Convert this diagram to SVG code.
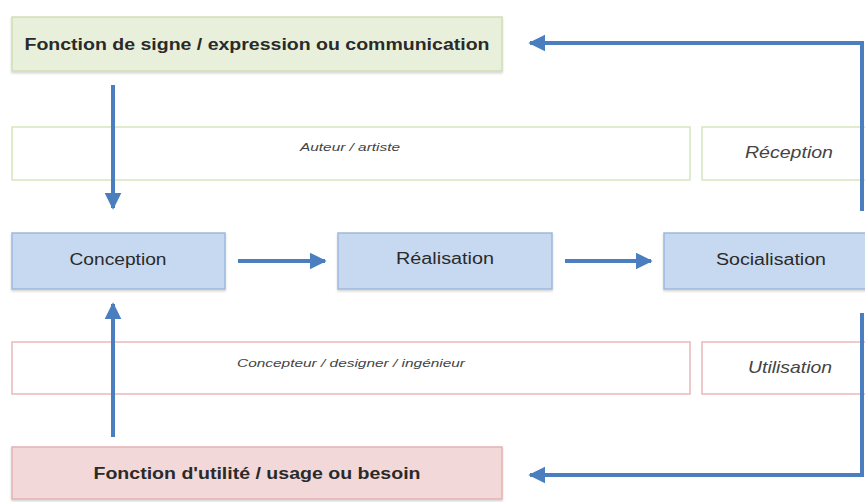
<svg xmlns="http://www.w3.org/2000/svg" width="865" height="502" viewBox="0 0 865 502">
<style>
.t{font-family:"Liberation Sans",Arial,sans-serif;fill:#2a2a2a;text-anchor:middle;dominant-baseline:central}
.b{font-weight:bold;font-size:16px}
.n{font-size:16px}
.i{font-style:italic;font-size:10.5px;fill:#444}
.il{font-style:italic;font-size:17px;fill:#444}
.green{fill:#e8f0db;stroke:#cfe0b4;stroke-width:1.5}
.gline{fill:#fff;stroke:#d6e6bf;stroke-width:1.5}
.blue{fill:#c6d9f1;stroke:#9db9dd;stroke-width:1.5}
.pink{fill:#f2d8d8;stroke:#e3b3b3;stroke-width:1.5}
.pline{fill:#fff;stroke:#eab9b9;stroke-width:1.5}
.c{fill:none;stroke:#4a7ebf;stroke-width:4}
</style>
<defs>
<marker id="ah" viewBox="0 0 10 10" refX="9" refY="5" markerWidth="4.2" markerHeight="5" orient="auto" markerUnits="strokeWidth">
<path d="M0,0 L10,5 L0,10 z" fill="#4a7ebf"/>
</marker>
<filter id="sh" x="-5%" y="-10%" width="110%" height="130%">
<feDropShadow dx="0" dy="1.5" stdDeviation="1.2" flood-color="#000" flood-opacity="0.18"/>
</filter>
</defs>
<g id="signe"><rect class="green" x="12" y="17" width="490" height="54" filter="url(#sh)"/><text class="t b" x="257" y="44" textLength="465" lengthAdjust="spacingAndGlyphs">Fonction de signe / expression ou communication</text></g>
<g id="auteur"><rect class="gline" x="12" y="127" width="678" height="53"/><text class="t i" x="350" y="147" textLength="100" lengthAdjust="spacingAndGlyphs">Auteur / artiste</text></g>
<g id="reception"><rect class="gline" x="702" y="127" width="170" height="53"/><text class="t il" x="789" y="152" textLength="88" lengthAdjust="spacingAndGlyphs">Réception</text></g>
<g id="conception"><rect class="blue" x="12" y="233" width="213" height="56" filter="url(#sh)"/><text class="t n" x="118" y="259" textLength="97" lengthAdjust="spacingAndGlyphs">Conception</text></g>
<g id="realisation"><rect class="blue" x="338" y="233" width="214" height="56" filter="url(#sh)"/><text class="t n" x="445" y="258" textLength="98" lengthAdjust="spacingAndGlyphs">Réalisation</text></g>
<g id="socialisation"><rect class="blue" x="664" y="233" width="210" height="56" filter="url(#sh)"/><text class="t n" x="771" y="259" textLength="110" lengthAdjust="spacingAndGlyphs">Socialisation</text></g>
<g id="concepteur"><rect class="pline" x="12" y="342" width="678" height="52"/><text class="t i" x="351" y="363" textLength="228" lengthAdjust="spacingAndGlyphs">Concepteur / designer / ingénieur</text></g>
<g id="utilisation"><rect class="pline" x="702" y="342" width="170" height="52"/><text class="t il" x="790" y="367" textLength="84" lengthAdjust="spacingAndGlyphs">Utilisation</text></g>
<g id="utilite"><rect class="pink" x="12" y="447" width="490" height="52" filter="url(#sh)"/><text class="t b" x="257" y="473" textLength="327" lengthAdjust="spacingAndGlyphs">Fonction d'utilité / usage ou besoin</text></g>
<g id="connectors">
<path class="c" d="M113,85 V208" marker-end="url(#ah)"/>
<path class="c" d="M113,437 V304" marker-end="url(#ah)"/>
<path class="c" d="M238,261 H325" marker-end="url(#ah)"/>
<path class="c" d="M565,261 H651" marker-end="url(#ah)"/>
<path class="c" d="M862,211 V43 H530" marker-end="url(#ah)"/>
<path class="c" d="M862,313 V475 H530" marker-end="url(#ah)"/>
</g>
</svg>
